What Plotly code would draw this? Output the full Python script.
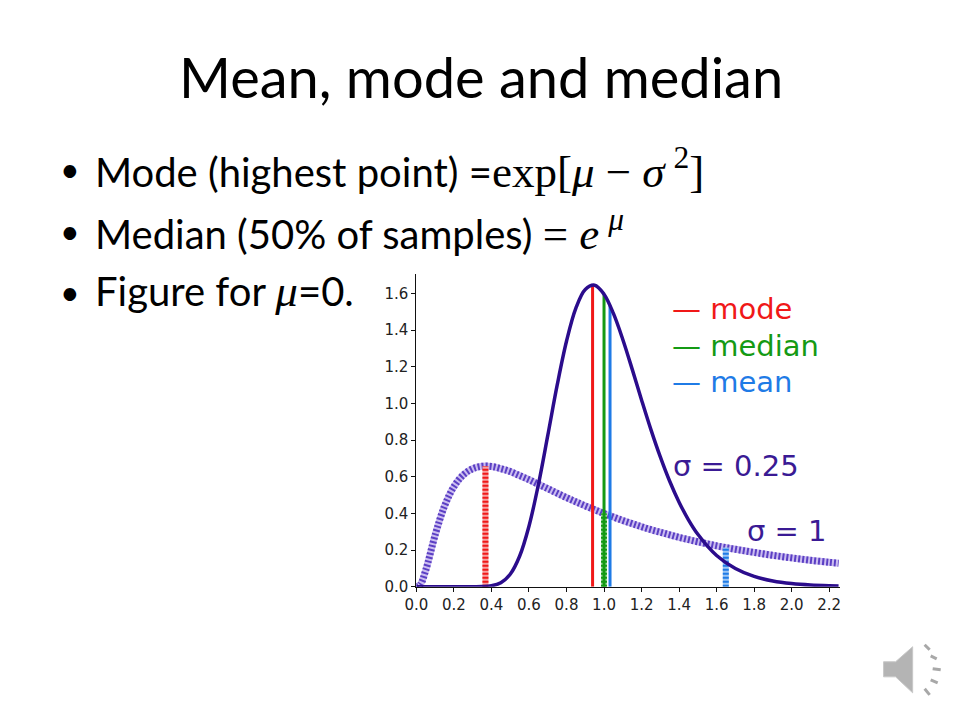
import plotly.graph_objects as go

# values (lognormal pdf, mu = 0)
x_vals = [0.0, 0.02, 0.05, 0.1, 0.15, 0.2, 0.25, 0.3, 0.35, 0.4, 0.45, 0.5, 0.55, 0.6,
          0.65, 0.7, 0.75, 0.8, 0.85, 0.9, 0.95, 1.0, 1.05, 1.1, 1.15, 1.2, 1.25, 1.3,
          1.35, 1.4, 1.45, 1.5, 1.6, 1.7, 1.8, 1.9, 2.0, 2.1, 2.2, 2.25]
pdf_s025 = [0.0, 0.0, 0.0, 0.0, 0.0, 0.0, 0.0, 0.0, 0.0005, 0.005, 0.022, 0.068, 0.166, 0.330,
            0.556, 0.824, 1.098, 1.339, 1.520, 1.622, 1.645, 1.596, 1.491, 1.349, 1.187, 1.019,
            0.857, 0.708, 0.575, 0.461, 0.365, 0.286, 0.170, 0.099, 0.056, 0.031, 0.017,
            0.009, 0.005, 0.004]
pdf_s1 = [0.0, 0.010, 0.090, 0.282, 0.440, 0.546, 0.610, 0.644, 0.657, 0.656, 0.644, 0.628,
          0.606, 0.584, 0.559, 0.535, 0.510, 0.486, 0.463, 0.441, 0.420, 0.399, 0.380,
          0.361, 0.344, 0.327, 0.311, 0.297, 0.283, 0.269, 0.257, 0.245, 0.223, 0.204,
          0.187, 0.171, 0.157, 0.144, 0.133, 0.128]

stat_names = ["mode", "median", "mean"]
stat_colors = ["#f01818", "#149a14", "#1f7be6"]
stat_base = ["#f6a0a0", "#9fd49f", "#9cc6f4"]
stat_x_s025 = [0.939, 1.0, 1.032]
stat_y_s025 = [1.647, 1.596, 1.534]
stat_x_s1 = [0.368, 1.0, 1.649]
stat_y_s1 = [0.657, 0.399, 0.214]

x_ticks = [0.0, 0.2, 0.4, 0.6, 0.8, 1.0, 1.2, 1.4, 1.6, 1.8, 2.0, 2.2]
y_ticks = [0.0, 0.2, 0.4, 0.6, 0.8, 1.0, 1.2, 1.4, 1.6]

CURVE = "#2b0c8c"
HATCH = "#5b3fc4"
HATCH_BASE = "#cbbdf0"
SIGMA_TXT = "#3a1a94"

fig = go.Figure()

# sigma = 1 : thick hatched curve (light base + fine dark stripes)
fig.add_trace(go.Scatter(x=x_vals, y=pdf_s1, mode="lines", line_shape="spline",
                         line=dict(color=HATCH_BASE, width=7)))
fig.add_trace(go.Scatter(x=x_vals, y=pdf_s1, mode="lines", line_shape="spline",
                         line=dict(color=HATCH, width=7, dash="2px,2px")))

# sigma = 1 statistics, hatched verticals
for xs, ys, c, b in zip(stat_x_s1, stat_y_s1, stat_colors, stat_base):
    fig.add_trace(go.Scatter(x=[xs, xs], y=[0, ys], mode="lines",
                             line=dict(color=b, width=6)))
    fig.add_trace(go.Scatter(x=[xs, xs], y=[0, ys], mode="lines",
                             line=dict(color=c, width=6, dash="2px,2px")))

# sigma = 0.25 statistics, solid verticals
for xs, ys, c in zip(stat_x_s025, stat_y_s025, stat_colors):
    fig.add_trace(go.Scatter(x=[xs, xs], y=[0, ys], mode="lines",
                             line=dict(color=c, width=3)))

# sigma = 0.25 curve
fig.add_trace(go.Scatter(x=x_vals, y=pdf_s025, mode="lines", line_shape="spline",
                         line=dict(color=CURVE, width=3.5)))


# the page comes out slightly shifted/scaled, so place things by target pixel
def fx(t):
    return (t - 19.6) / 0.984


def fy(t):
    return (t - 9.2) / 0.986


def px(x):
    return fx(x) / 960


def py(y):
    return 1 - fy(y) / 720


axis_common = dict(showgrid=False, zeroline=False, showline=True, linecolor="#111",
                   linewidth=1, ticks="outside", ticklen=4, tickcolor="#111",
                   tickfont=dict(family="DejaVu Sans", size=15, color="#222"))
fig.update_xaxes(range=[0, 2.26], tickvals=x_ticks, ticktext=[f"{v:.1f}" for v in x_ticks],
                 domain=[px(415), px(838)], **axis_common)
fig.update_yaxes(range=[0, 1.705], tickvals=y_ticks, ticktext=[f"{v:.1f}" for v in y_ticks],
                 domain=[py(587), py(275)], **axis_common)

ann = []
# slide title
ann.append(dict(text="Mean, mode and median", x=px(479), y=py(78), xref="paper", yref="paper",
                xanchor="center", yanchor="middle", showarrow=False,
                font=dict(family="Lato", size=56, color="#000")))

serif = "font-family:'Liberation Serif';font-size:45px"
bullets = [
    f"Mode (highest point) =<span style=\"{serif}\">exp[<i>μ</i> − <i>σ</i>\u2009<sup>2</sup>]</span>",
    f"Median (50% of samples) <span style=\"{serif}\">= <i>e</i>\u2009<sup><i>μ</i></sup></span>",
    f"Figure for <span style=\"{serif}\"><i>μ</i></span>=0.",
]
bullet_y = [169, 231, 292]
for t, yy in zip(bullets, bullet_y):
    ann.append(dict(text="•", x=px(58), y=py(yy), xref="paper", yref="paper",
                    xanchor="left", yanchor="middle", showarrow=False,
                    font=dict(family="Lato", size=34, color="#000")))
    ann.append(dict(text=t, x=px(92), y=py(yy), xref="paper", yref="paper",
                    xanchor="left", yanchor="middle", showarrow=False,
                    font=dict(family="Lato", size=40, color="#000")))

# legend drawn as coloured text
for i, (n, c) in enumerate(zip(stat_names, stat_colors)):
    ann.append(dict(text=f"— {n}", x=px(668), y=py(310 + 36.5 * i), xref="paper", yref="paper",
                    xanchor="left", yanchor="middle", showarrow=False,
                    font=dict(family="DejaVu Sans", size=29, color=c)))

ann.append(dict(text="σ = 0.25", x=px(669), y=py(467), xref="paper", yref="paper",
                xanchor="left", yanchor="middle", showarrow=False,
                font=dict(family="DejaVu Sans", size=29, color=SIGMA_TXT)))
ann.append(dict(text="σ = 1", x=px(743), y=py(531), xref="paper", yref="paper",
                xanchor="left", yanchor="middle", showarrow=False,
                font=dict(family="DejaVu Sans", size=29, color=SIGMA_TXT)))

# speaker icon in the corner
spk = [(881, 662), (893, 662), (910, 647), (910, 693), (893, 677), (881, 677)]
path = "M " + " L ".join(f"{px(a):.4f},{py(b):.4f}" for a, b in spk) + " Z"
shapes = [dict(type="path", path=path, xref="paper", yref="paper",
               fillcolor="#b4b4b4", line=dict(color="#c8c8c8", width=1))]
rays = [((922, 645), (927, 650)), ((928, 656), (934, 659)), ((930, 669), (938, 670)),
        ((928, 680), (935, 683)), ((922, 689), (927, 695))]
for (a, b), (c, d) in rays:
    shapes.append(dict(type="line", x0=px(a), y0=py(b), x1=px(c), y1=py(d),
                       xref="paper", yref="paper", line=dict(color="#a8a8a8", width=3)))

fig.update_layout(width=960, height=720, margin=dict(l=0, r=0, t=0, b=0),
                  paper_bgcolor="white", plot_bgcolor="white", showlegend=False,
                  annotations=ann, shapes=shapes)

fig.write_html("out.html")
